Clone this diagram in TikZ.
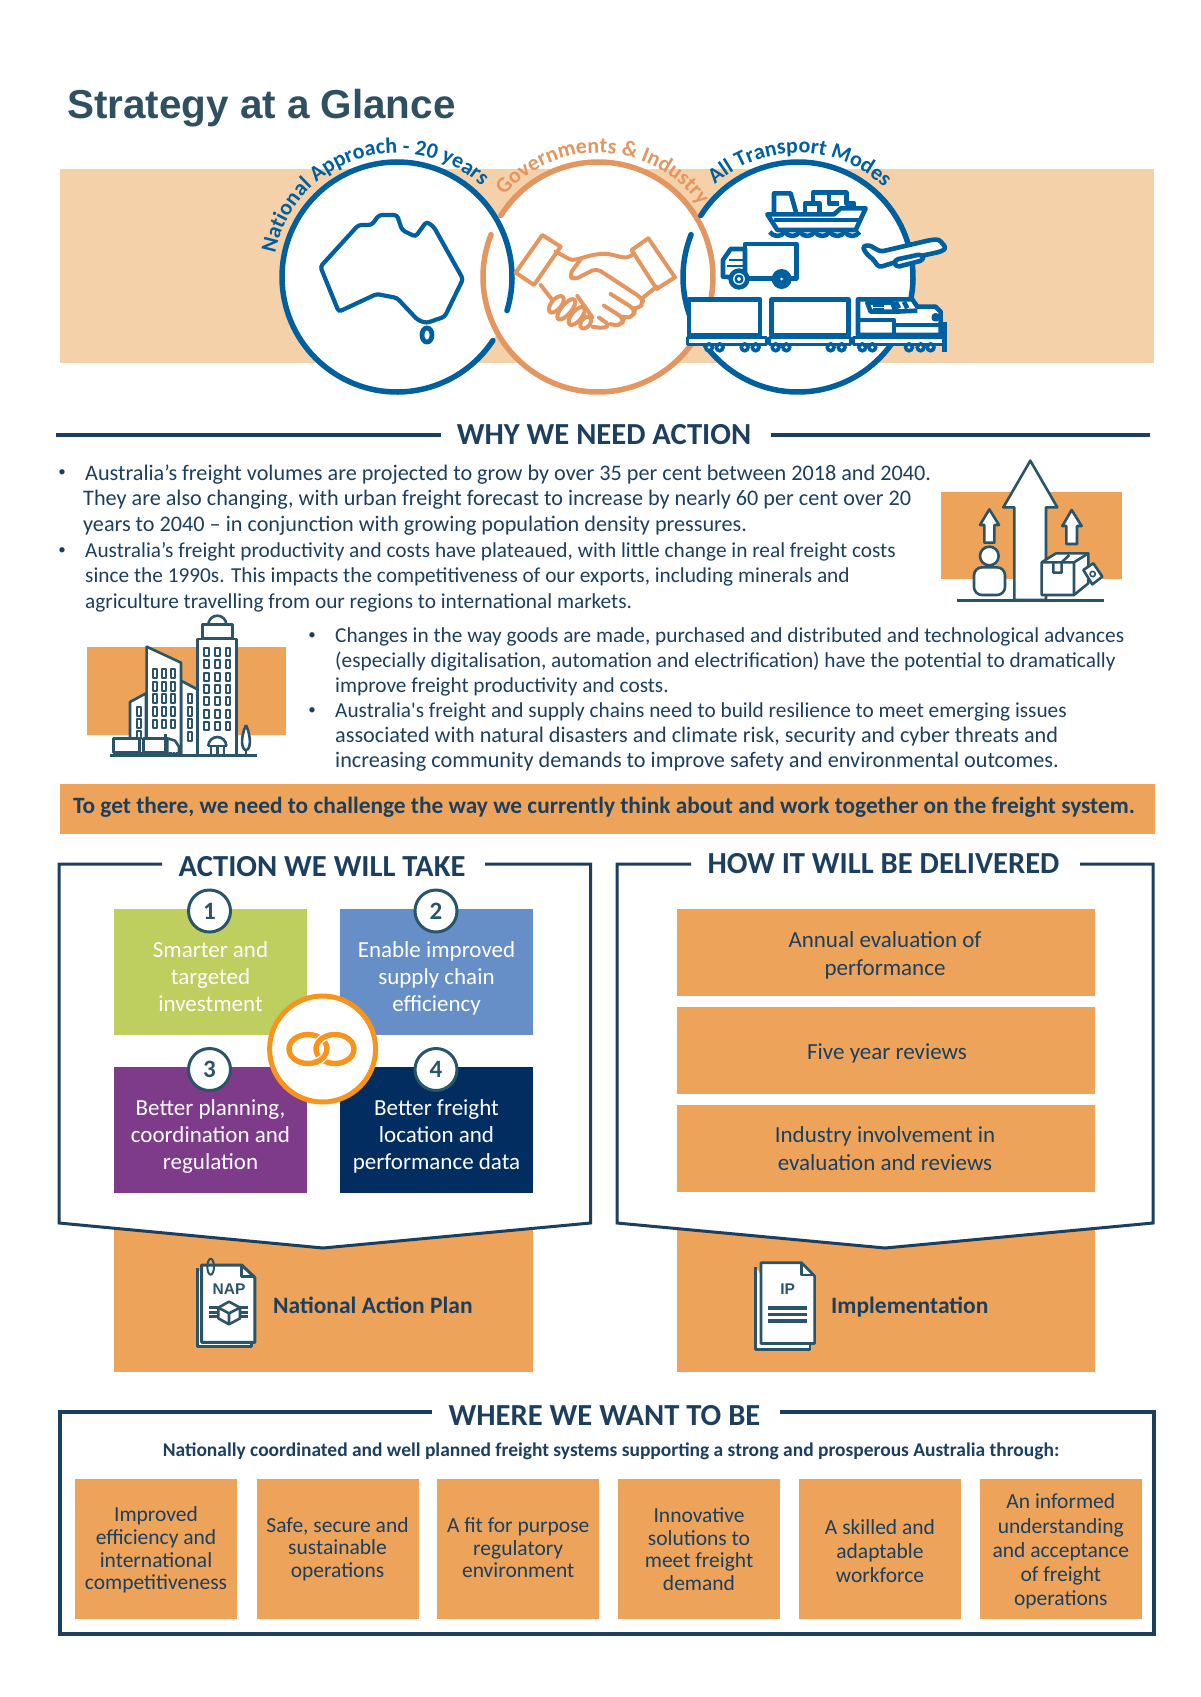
\documentclass[tikz,border=0pt]{standalone}
\usepackage{fontspec}
\setmainfont{Carlito}
\newfontfamily\titlefont{Liberation Sans}
\usetikzlibrary{decorations.text}
\definecolor{banner}{HTML}{F5D1AA}
\definecolor{boxorange}{HTML}{EDA35A}
\definecolor{navytext}{HTML}{1C3F5F}
\definecolor{iconline}{HTML}{2A5468}
\definecolor{titleink}{HTML}{2F5060}
\definecolor{ringblue}{HTML}{00609F}
\definecolor{ringorange}{HTML}{E3965F}
\definecolor{linkorange}{HTML}{F7941D}
\definecolor{actiongreen}{HTML}{BECE5F}
\definecolor{actionblue}{HTML}{668FC7}
\definecolor{actionpurple}{HTML}{7D3B8A}
\definecolor{actionnavy}{HTML}{022D60}
\newcommand{\arcfont}{\fontsize{22}{24}\selectfont\bfseries}
\newcommand{\widerline}{\fontsize{22.2}{25.4}\selectfont}
\begin{document}
\begin{tikzpicture}[x=1pt, y=-1pt,
  zoomed/.style={x=0.3333pt, y=-0.3333pt},
  heading/.style={font=\fontsize{30.6}{33}\selectfont\bfseries, text=navytext, inner sep=0pt},
  body/.style={font=\fontsize{21.3}{25.4}\selectfont, text=navytext, align=left, anchor=west, inner sep=0pt},
  bullet/.style={font=\fontsize{15}{18}\selectfont, text=navytext, inner sep=0pt},
  ruleline/.style={draw=navytext, line width=3.5pt},
  chevron/.style={draw=navytext, line width=3pt, fill=white},
  flatbox/.style={fill=boxorange, inner sep=0pt, minimum width=#1, minimum height=87pt},
  action/.style={fill=#1, inner sep=0pt, minimum width=193pt, minimum height=126pt},
  actiontext/.style={font=\fontsize{23}{27}\selectfont, text=white, align=center, inner sep=0pt},
  boxtext/.style={font=\fontsize{23}{28}\selectfont, text=navytext, align=center, inner sep=0pt},
  goal/.style={fill=boxorange, inner sep=0pt, minimum width=162pt, minimum height=140pt},
  goaltext/.style={font=\fontsize{21.5}{#1}\selectfont, text=navytext, align=center, inner sep=0pt},
  number/.style={circle, draw=iconline, line width=3pt, fill=white, minimum size=42pt, inner sep=0pt, font=\fontsize{25}{27}\selectfont\bfseries, text=iconline},
  ring/.style={line width=5.5pt, line cap=round},
  icon/.style={draw=iconline, line width=2.6pt, line join=round},
  tp/.style={draw=ringblue, line width=4.6pt, line join=round}]
\useasboundingbox (0,0) rectangle (1200,1697);

\node[font=\titlefont\fontsize{40.4}{44}\selectfont\bfseries, text=titleink, anchor=west, inner sep=0pt] (title) at (67,108) {Strategy at a Glance};
\fill[banner] (60,169) rectangle (1154,363);

\node[circle, fill=white, minimum size=230pt, inner sep=0pt] (nat) at (397,277) {};
\node[circle, fill=white, minimum size=230pt, inner sep=0pt] (gov) at (598,277) {};
\node[circle, fill=white, minimum size=230pt, inner sep=0pt] (modes) at (798,277) {};
\draw[ring, ringblue] (nat.center) ++(33.5:115) arc (33.5:377:115);
\draw[ring, ringorange] (gov.center) ++(212.3:115) arc (212.3:561.6:115);
\draw[ring, ringblue] (modes.center) ++(212.3:115) arc (212.3:561.6:115);
\path[decorate, decoration={text along path, text align=center, text={|\arcfont\color{ringblue}|National Approach - 20 years}}] (nat.center) ++(187:124) arc (187:317:124);
\path[decorate, decoration={text along path, text align=center, text={|\arcfont\color{ringorange}|Governments {\&} Industry}}] (gov.center) ++(219:124) arc (219:327:124);
\path[decorate, decoration={text along path, text align=center, text={|\arcfont\color{ringblue}|All Transport Modes}}] (modes.center) ++(225:124) arc (225:317:124);

\draw[ringblue, line width=4.2pt, rounded corners=3pt] (320.4,266.7) -- (358.4,225) -- (371.6,225) -- (379,215) -- (397,215) -- (402,230) -- (415.5,236.7) -- (426.4,221.7) -- (433.7,226.7) -- (463,279) -- (444.7,316.7) -- (426.4,323) -- (417.7,320) -- (397,298) -- (376.7,294) -- (338.7,311.7) -- cycle;
\draw[ringblue, line width=4.8pt] (427,335) ellipse (5 and 7);

\begin{scope}[shift={(509,220)}, zoomed, draw=ringorange, line width=4pt, line join=round, line cap=round]
\draw (100,45) -- (155,80) -- (75,195) -- (20,158) -- cycle;
\draw (418,55) -- (498,172) -- (443,207) -- (368,90) -- cycle;
\draw[rounded corners=4pt] (140,95) -- (190,122) -- (250,105) -- (290,100) -- (355,115) -- (375,100);
\draw[rounded corners=5pt] (215,118) -- (180,165) -- (195,180) -- (262,145) -- (395,232) -- (405,247) -- (390,265) -- (372,265);
\draw[rounded corners=5pt] (305,222) -- (378,268) -- (375,285) -- (355,295) -- (340,290);
\draw[rounded corners=5pt] (285,257) -- (345,295) -- (340,310) -- (320,318) -- (305,312);
\draw[rounded corners=4pt] (270,293) -- (302,315) -- (285,325) -- (250,320);
\draw (443,200) -- (403,232);
\draw (95,195) -- (130,240);
\draw (205,228) -- (250,292);
\draw[rotate around={50:(142,253)}] (142,253) ellipse (30 and 15);
\draw[rotate around={50:(172,268)}] (172,268) ellipse (38 and 15);
\draw[rotate around={50:(203,288)}] (203,288) ellipse (33 and 15);
\draw[rotate around={50:(230,308)}] (230,308) ellipse (20 and 13);
\end{scope}

\begin{scope}[shift={(719,180)}, zoomed, tp]
\draw[fill=white] (145,103) -- (345,103) -- (365,85) -- (440,85) -- (410,150) -- (175,150) -- cycle;
\draw (165,120) -- (420,120);
\draw (165,100) -- (165,40) -- (215,40) -- (232,100);
\draw (258,100) -- (258,70) -- (302,70) -- (302,100);
\draw (282,70) -- (282,38) -- (382,38) -- (382,70) -- (405,70) -- (405,85);
\draw (330,38) -- (330,70) -- (360,70);
\foreach \wave in {0,...,5} {
  \draw (152+\wave*45,156) .. controls (165+\wave*45,172) and (185+\wave*45,172) .. (197+\wave*45,156);
}
\draw[fill=white] (78,295) -- (78,192) -- (232,192) -- (232,295) -- cycle;
\draw[fill=white] (78,207) -- (35,207) -- (12,240) -- (12,290) -- (78,295) -- cycle;
\draw[line width=2.5pt] (30,240) -- (75,240) (25,258) -- (78,258);
\draw[fill=white] (60,297) circle (25);
\draw[line width=2.5pt] (60,297) circle (10);
\fill[ringblue] (188,297) circle (30);
\fill[white] (188,297) circle (4.5);
\draw[fill=white, rounded corners=3pt] (430,200) -- (450,195) -- (485,215) -- (635,180) -- (660,178) -- (682,205) -- (665,215) -- (550,240) -- (480,262) -- (460,235) -- (445,225) -- cycle;
\draw[fill=white, rounded corners=4pt] (525,240) -- (610,222) -- (615,240) -- (530,262) -- cycle;
\end{scope}

\begin{scope}[shift={(679,290)}, zoomed, tp]
\draw[fill=white] (30,28) rectangle (243,135);
\draw[fill=white] (278,28) rectangle (508,135);
\draw[fill=white, line width=3pt] (25,142) rectangle (262,163);
\draw[fill=white, line width=3pt] (270,142) rectangle (515,163);
\draw[fill=white, line width=3pt] (525,142) rectangle (795,163);
\draw[fill=white] (537,28) -- (537,135) -- (785,135) -- (785,65) -- (770,50) -- (715,50) -- (700,28) -- cycle;
\draw (537,90) -- (645,90) -- (645,135);
\draw (645,105) -- (785,105);
\draw (565,38) -- (640,38) -- (650,65) -- (575,65) -- cycle;
\draw[line width=2.5pt] (582,48) -- (615,48) (582,58) -- (615,58);
\draw (650,35) -- (660,55) (675,35) -- (685,55);
\draw (650,65) -- (715,62);
\draw (770,82) circle (6);
\draw (797,95) -- (797,185);
\foreach \wheel in {90,122,197,230,290,322,455,488,550,580,690,725,755} {
  \fill[ringblue] (\wheel,172) circle (16);
  \fill[white] (\wheel,172) circle (4.5);
}
\end{scope}

\node[heading] (whyhead) at (604,435) {WHY WE NEED ACTION};
\draw[ruleline] (56,435) -- (441,435);
\draw[ruleline] (771,435) -- (1150,435);

\node[bullet] (bulleta) at (62,473) {•};
\node[body, font=\fontsize{22.2}{25.4}\selectfont] (whya) at (85,500) {Australia’s freight volumes are projected to grow by over 35 per cent between 2018 and 2040.\\\hspace*{-2pt}They are also changing, with urban freight forecast to increase by nearly 60 per cent over 20\\\hspace*{-2pt}years to 2040 – in conjunction with growing population density pressures.};
\node[bullet] (bulletb) at (62,551) {•};
\node[body] (whyb) at (85,577) {Australia’s freight productivity and costs have plateaued, with little change in real freight costs\\since the 1990s. This impacts the competitiveness of our exports, including minerals and\\agriculture travelling from our regions to international markets.};
\node[bullet] (bulletc) at (312,636) {•};
\node[body] (whyc) at (335,662) {Changes in the way goods are made, purchased and distributed and technological advances\\(especially digitalisation, automation and electrification) have the potential to dramatically\\improve freight productivity and costs.};
\node[bullet] (bulletd) at (312,711) {•};
\node[body] (whyd) at (335,737) {Australia\textquotesingle s freight and supply chains need to build resilience to meet emerging issues\\\widerline associated with natural disasters and climate risk, security and cyber threats and\\\widerline increasing community demands to improve safety and environmental outcomes.};

\fill[boxorange] (941,492) rectangle (1122,579);
\begin{scope}[shift={(950,450)}, zoomed, icon]
\draw[fill=white] (241,32) -- (322,172) -- (288,172) -- (288,450) -- (193,450) -- (193,172) -- (160,172) -- cycle;
\draw[fill=white] (118,178) -- (147,225) -- (133,225) -- (133,278) -- (103,278) -- (103,225) -- (90,225) -- cycle;
\draw[fill=white] (365,180) -- (395,228) -- (381,228) -- (381,282) -- (349,282) -- (349,228) -- (337,228) -- cycle;
\draw[fill=white] (118,318) circle (28);
\draw[fill=white, rounded corners=8pt] (72,435) -- (72,352) -- (165,352) -- (165,435) -- cycle;
\draw[fill=white] (275,337) -- (318,310) -- (415,310) -- (415,400) -- (372,435) -- (275,435) -- cycle;
\draw (275,337) -- (372,337) -- (372,435) (372,337) -- (415,310);
\draw (310,337) -- (310,368) -- (335,368) -- (335,337) (335,337) -- (358,315);
\draw[fill=white] (400,360) -- (430,340) -- (457,380) -- (427,403) -- cycle;
\draw[line width=1.6pt] (428,372) circle (8);
\draw (22,451) -- (462,451);
\end{scope}

\fill[boxorange] (87.3,647) rectangle (286,735);
\begin{scope}[shift={(80,610)}, zoomed, icon]
\draw[fill=white] (385,44) arc (180:360:27);
\draw[fill=white] (367,85) rectangle (457,44);
\draw[fill=white] (352,437) -- (352,87) -- (470,87) -- (470,437);
\draw[fill=white] (150,437) -- (150,276) -- (198,250) -- (198,437);
\draw[fill=white] (303,437) -- (303,212) -- (352,238) -- (352,437);
\draw[fill=white] (200,437) -- (200,110) -- (303,158) -- (303,437);
\foreach \col in {380,412,444} {
  \foreach \row in {125,162,200,238,274,312,348} {
    \draw[line width=2pt] (\col-7,\row-12) rectangle (\col+7,\row+12);
  }
}
\foreach \col in {226,252,278} {
  \foreach \row in {191,229,265,304,342} {
    \draw[line width=2pt] (\col-6,\row-13) rectangle (\col+6,\row+13);
  }
}
\foreach \row in {266,304,341,380} {
  \draw[line width=2pt] (329-6,\row-13) rectangle (329+6,\row+13);
}
\foreach \row in {304,341,375} {
  \draw[line width=2pt] (176-6,\row-13) rectangle (176+6,\row+13);
}
\draw[fill=white] (385,408) arc (180:360:27);
\draw (393,436) -- (393,408) (412,436) -- (412,408) (432,436) -- (432,408) (385,408) -- (440,408);
\draw[fill=white] (498,345) .. controls (480,385) and (485,420) .. (498,420) .. controls (511,420) and (516,385) .. (498,345);
\draw (498,420) -- (498,436);
\draw[fill=white] (101,385) rectangle (178,428);
\draw[fill=white] (190,385) rectangle (260,428);
\draw[fill=white] (262,385) -- (285,392) -- (297,410) -- (297,432) -- (262,432) -- cycle;
\draw (257,372) -- (257,428);
\draw[densely dotted] (105,430) -- (295,430);
\draw (90,436) -- (530,436);
\end{scope}

\fill[boxorange] (60,784) rectangle (1155,834);
\node[font=\fontsize{23.35}{26}\selectfont\bfseries, text=navytext, inner sep=0pt] (challenge) at (604,807) {To get there, we need to challenge the way we currently think about and work together on the freight system.};

\fill[boxorange] (114,1220) rectangle (533,1372);
\draw[chevron] (162,864) -- (59,864) -- (59,1223) -- (323,1248) -- (590.5,1223) -- (590.5,864) -- (485,864);
\node[heading] (actionhead) at (322,867) {ACTION WE WILL TAKE};

\node[action=actiongreen] (greenbox) at (210.5,971.5) {};
\node[action=actionblue] (bluebox) at (436.5,971.5) {};
\node[action=actionpurple] (purplebox) at (210.5,1129.5) {};
\node[action=actionnavy] (navybox) at (436.5,1129.5) {};
\node[actiontext] (greentext) at (210.5,977) {Smarter and\\targeted\\investment};
\node[actiontext] (bluetext) at (436.5,978.5) {Enable improved\\supply chain\\efficiency};
\node[actiontext] (purpletext) at (210.5,1136) {Better planning,\\coordination and\\regulation};
\node[actiontext] (navytext) at (436.5,1136.5) {Better freight\\location and\\performance data};
\node[number] (one) at (209.5,911) {1};
\node[number] (two) at (436,911) {2};
\node[number] (three) at (209.5,1069.5) {3};
\node[number] (four) at (436,1069.5) {4};
\node[circle, draw=linkorange, line width=5pt, fill=white, minimum size=106pt, inner sep=0pt] (linkcircle) at (322.6,1049) {};
\draw[linkorange, line width=5.4pt] (308,1049) ellipse (19 and 14.5);
\draw[white, line width=8pt] (335,1049) ++(195:19 and 14.5) arc (195:255:19 and 14.5);
\draw[linkorange, line width=5.4pt] (335,1049) ellipse (19 and 14.5);
\draw[white, line width=8pt] (308,1049) ++(0:19 and 14.5) arc (0:60:19 and 14.5);
\draw[linkorange, line width=5.4pt] (308,1049) ++(-10:19 and 14.5) arc (-10:70:19 and 14.5);

\node[font=\fontsize{23.5}{26}\selectfont\bfseries, text=navytext, anchor=west, inner sep=0pt] (naplabel) at (273,1305) {National Action Plan};
\begin{scope}[shift={(190,1255)}, zoomed, icon]
\draw[fill=white] (22,40) -- (22,275) -- (185,275) -- (185,262);
\draw[fill=white, line width=3pt] (35,30) -- (155,30) -- (195,68) -- (195,262) -- (35,262) -- cycle;
\draw[line width=3pt] (155,30) -- (155,65) -- (195,65);
\draw[line width=2pt] (62,35) ellipse (10 and 24);
\node[font=\titlefont\fontsize{15.5}{16}\selectfont\bfseries, text=iconline, inner sep=0pt] (naptag) at (117,103) {NAP};
\draw (58,158) -- (175,158) (58,172) -- (175,172) (58,185) -- (175,185);
\draw[fill=white] (117,140) -- (150,158) -- (150,190) -- (117,208) -- (85,190) -- (85,158) -- cycle;
\draw (85,158) -- (117,175) -- (150,158) (117,175) -- (117,208);
\end{scope}

\fill[boxorange] (677,1220) rectangle (1095,1372);
\draw[chevron] (691,864) -- (617,864) -- (617,1223) -- (885,1248) -- (1153,1223) -- (1153,864) -- (1080,864);
\node[heading] (deliverhead) at (883.5,864) {HOW IT WILL BE DELIVERED};
\node[flatbox=418pt] (annual) at (886,952) {};
\node[flatbox=418pt] (fiveyear) at (886,1050.5) {};
\node[flatbox=418pt] (industry) at (886,1148) {};
\node[boxtext] (annualtext) at (885,955) {Annual evaluation of\\performance};
\node[boxtext] (fiveyeartext) at (887,1053) {Five year reviews};
\node[boxtext] (industrytext) at (885,1149) {Industry involvement in\\evaluation and reviews};
\node[font=\fontsize{23.5}{26}\selectfont\bfseries, text=navytext, anchor=west, inner sep=0pt] (iplabel) at (831,1307.5) {Implementation};
\draw[icon, fill=white] (755.4,1267) -- (755.4,1349.6) -- (810,1349.6) -- (810,1343);
\draw[icon, fill=white] (761,1262.7) -- (801.6,1262.7) -- (814.6,1276) -- (814.6,1343.5) -- (761,1343.5) -- cycle;
\draw[icon] (801.6,1262.7) -- (801.6,1275) -- (814.6,1275);
\node[font=\titlefont\fontsize{15.5}{16}\selectfont\bfseries, text=iconline, inner sep=0pt] (iptag) at (787.6,1289.6) {IP};
\draw[icon, line width=3.2pt] (768,1308) -- (807,1308) (768,1314.5) -- (807,1314.5) (768,1321) -- (807,1321);

\draw[ruleline] (432,1412) -- (60,1412) -- (60,1634) -- (1154,1634) -- (1154,1412) -- (780,1412);
\node[heading] (wherehead) at (604.5,1416) {WHERE WE WANT TO BE};
\node[font=\fontsize{19.45}{22}\selectfont\bfseries, text=navytext, inner sep=0pt] (through) at (611,1451) {Nationally coordinated and well planned freight systems supporting a strong and prosperous Australia through:};

\node[goal] (goala) at (156,1549) {};
\node[goal] (goalb) at (337.5,1549) {};
\node[goal] (goalc) at (518.2,1549) {};
\node[goal] (goald) at (699,1549) {};
\node[goal] (goale) at (880,1549) {};
\node[goal] (goalf) at (1060.8,1549) {};
\node[goaltext=22.6] (goalatext) at (156,1550) {Improved\\efficiency and\\international\\competitiveness};
\node[goaltext=22.4] (goalbtext) at (337.5,1549) {Safe, secure and\\sustainable\\operations};
\node[goaltext=22.4] (goalctext) at (518.2,1548) {A fit for purpose\\regulatory\\environment};
\node[goaltext=22.6] (goaldtext) at (699,1549) {Innovative\\solutions to\\meet freight\\demand};
\node[goaltext=23.6] (goaletext) at (880,1551) {A skilled and\\adaptable\\workforce};
\node[goaltext=24.2] (goalftext) at (1060.8,1551.5) {An informed\\understanding\\and acceptance\\of freight\\operations};
\end{tikzpicture}
\end{document}
